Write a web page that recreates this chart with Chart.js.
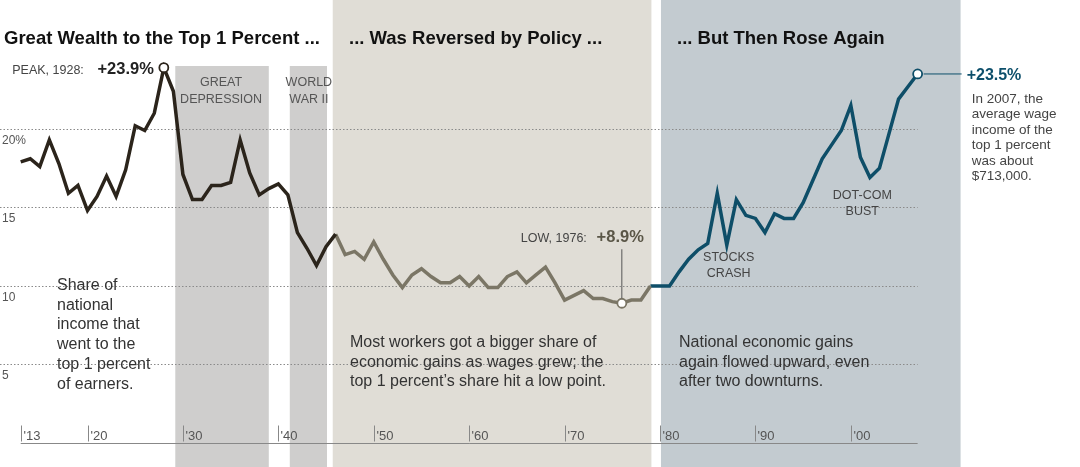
<!DOCTYPE html>
<html>
<head>
<meta charset="utf-8">
<script src="https://cdn.jsdelivr.net/npm/chart.js@4.4.1/dist/chart.umd.min.js"></script>
<style>
  html, body { margin: 0; padding: 0; background: #fff; }
  #wrap { width: 1080px; height: 467px; position: relative; }
</style>
</head>
<body>
<div id="wrap"><canvas id="chart"></canvas></div>
<script>
const years = [];
for (let y = 1913; y <= 2007; y++) years.push(y);

// share of national income going to top 1 percent (%)
const share = [
  17.9, 18.1, 17.6, 19.3, 17.8, 15.9, 16.4, 14.8, 15.7, 17.0,
  15.7, 17.4, 20.2, 19.9, 21.0, 23.9, 22.4, 17.1, 15.5, 15.5,
  16.4, 16.4, 16.6, 19.3, 17.2, 15.8, 16.2, 16.5, 15.8, 13.4,
  12.4, 11.3, 12.5, 13.3, 12.0, 12.2, 11.7, 12.8, 11.7, 10.7,
  9.9, 10.7, 11.1, 10.6, 10.2, 10.2, 10.6, 10.0, 10.6, 9.9,
  9.9, 10.6, 10.9, 10.2, 10.7, 11.2, 10.2, 9.1, 9.4, 9.7,
  9.2, 9.2, 9.0, 8.9, 9.1, 9.1, 10.0, 10.0, 10.0, 10.9,
  11.7, 12.3, 12.7, 15.9, 12.6, 15.5, 14.5, 14.3, 13.4, 14.6,
  14.3, 14.3, 15.3, 16.7, 18.1, 19.0, 19.9, 21.5, 18.2, 16.9,
  17.5, 19.7, 21.9, 22.7, 23.5
];

const yTicks = [5, 10, 15, 20];
const xTicks = [1913, 1920, 1930, 1940, 1950, 1960, 1970, 1980, 1990, 2000];
const xTickLabels = ["'13", "'20", "'30", "'40", "'50", "'60", "'70", "'80", "'90", "'00"];

// shaded periods [from, to, colour]
const bands = [
  [1929.2, 1939.0, '#cfcecd'],
  [1941.2, 1945.1, '#cfcecd'],
  [1945.7, 1979.1, '#e0ddd6'],
  [1980.1, 2011.5, '#c3cbd0']
];

const part = (from, to) => years.map((y, i) => (y >= from && y <= to) ? { x: y, y: share[i] } : null).filter(Boolean);
const marks = [1928, 1976, 2007];
const radius = pts => pts.map(p => marks.includes(p.x) ? 4.5 : 0);

const FONT = '"Liberation Sans", Arial, sans-serif';

const decor = {
  id: 'decor',
  beforeDatasetsDraw(chart) {
    const { ctx, scales: { x, y } } = chart;
    ctx.save();
    bands.forEach(([f, t, c]) => {
      ctx.fillStyle = c;
      const top = c === '#cfcecd' ? 66 : 0;
      ctx.fillRect(x.getPixelForValue(f), top, x.getPixelForValue(t) - x.getPixelForValue(f), 467 - top);
    });
    // dotted gridlines
    ctx.strokeStyle = '#8a8a8a';
    ctx.lineWidth = 1;
    ctx.setLineDash([1.5, 2]);
    yTicks.forEach(v => {
      const py = Math.round(y.getPixelForValue(v)) + 0.5;
      ctx.beginPath(); ctx.moveTo(0, py); ctx.lineTo(x.getPixelForValue(2007), py); ctx.stroke();
      ctx.fillStyle = '#555';
      ctx.font = '12px ' + FONT;
      ctx.fillText(v === 20 ? '20%' : String(v), 2, py + 14);
    });
    ctx.setLineDash([]);
    // x axis
    const by = Math.round(y.getPixelForValue(0)) + 0.5;
    ctx.strokeStyle = '#888';
    ctx.beginPath(); ctx.moveTo(x.getPixelForValue(1913), by); ctx.lineTo(x.getPixelForValue(2007), by); ctx.stroke();
    ctx.font = '13px ' + FONT;
    ctx.fillStyle = '#555';
    xTicks.forEach((t, i) => {
      const px = Math.round(x.getPixelForValue(t)) + 0.5;
      ctx.beginPath(); ctx.moveTo(px, by - 18); ctx.lineTo(px, by - 2); ctx.stroke();
      ctx.fillText(xTickLabels[i], px + 2, by - 4);
    });
    ctx.restore();
  },
  afterDatasetsDraw(chart) {
    const { ctx, scales: { x, y } } = chart;
    const P = (yr, v) => [x.getPixelForValue(yr), y.getPixelForValue(v)];
    ctx.save();
    ctx.textBaseline = 'alphabetic';
    ctx.fillStyle = '#111';
    ctx.font = 'bold 18.5px ' + FONT;
    ctx.fillText('Great Wealth to the Top 1 Percent ...', 4, 44);
    ctx.fillText('... Was Reversed by Policy ...', 349, 44);
    ctx.fillText('... But Then Rose Again', 677, 44);
    const txt = (s, px, py, size, col, align, bold) => {
      ctx.font = (bold ? 'bold ' : '') + size + 'px ' + FONT;
      ctx.fillStyle = col; ctx.textAlign = align || 'left';
      ctx.fillText(s, px, py);
    };
    let [px, py] = P(1928, 23.9);
    txt('PEAK, 1928:', px - 80, py + 6, 12.5, '#444', 'right');
    txt('+23.9%', px - 10, py + 6, 16.5, '#222', 'right', true);
    txt('GREAT', x.getPixelForValue(1934), 86, 12.5, '#555', 'center');
    txt('DEPRESSION', x.getPixelForValue(1934), 103, 12.5, '#555', 'center');
    txt('WORLD', x.getPixelForValue(1943.2), 86, 12.5, '#555', 'center');
    txt('WAR II', x.getPixelForValue(1943.2), 103, 12.5, '#555', 'center');
    [px, py] = P(1976, 8.9);
    ctx.strokeStyle = '#555'; ctx.lineWidth = 1;
    ctx.beginPath(); ctx.moveTo(px, py - 5); ctx.lineTo(px, py - 54); ctx.stroke();
    txt('LOW, 1976:', px - 35, py - 61, 12.5, '#444', 'right');
    txt('+8.9%', px + 22, py - 61, 16.5, '#5a5647', 'right', true);
    txt('STOCKS', x.getPixelForValue(1987.2), 261, 12.5, '#444', 'center');
    txt('CRASH', x.getPixelForValue(1987.2), 277, 12.5, '#444', 'center');
    txt('DOT-COM', x.getPixelForValue(2001.2), 199, 12.5, '#444', 'center');
    txt('BUST', x.getPixelForValue(2001.2), 215, 12.5, '#444', 'center');
    [px, py] = P(2007, 23.5);
    ctx.strokeStyle = '#0d4f6b';
    ctx.beginPath(); ctx.moveTo(px + 6, py); ctx.lineTo(px + 44, py); ctx.stroke();
    txt('+23.5%', px + 49, py + 6, 16, '#0d4f6b', 'left', true);
    ['In 2007, the', 'average wage', 'income of the', 'top 1 percent', 'was about', '$713,000.'].forEach((s, i) =>
      txt(s, px + 54, py + 29 + i * 15.5, 13.5, '#444'));
    ['Share of', 'national', 'income that', 'went to the', 'top 1 percent', 'of earners.'].forEach((s, i) =>
      txt(s, 57, 290 + i * 19.7, 16, '#333'));
    ['Most workers got a bigger share of', 'economic gains as wages grew; the', 'top 1 percent\u2019s share hit a low point.'].forEach((s, i) =>
      txt(s, 350, 347 + i * 19.5, 16, '#333'));
    ['National economic gains', 'again flowed upward, even', 'after two downturns.'].forEach((s, i) =>
      txt(s, 679, 347 + i * 19.5, 16, '#333'));
    ctx.restore();
  }
};

const lineSet = (data, color) => ({
  data, borderColor: color, borderWidth: 3.5, tension: 0,
  pointRadius: radius(data), pointBackgroundColor: '#fff', pointBorderColor: color, pointBorderWidth: 1.8
});

new Chart(document.getElementById('chart'), {
  type: 'line',
  data: {
    datasets: [
      lineSet(part(1913, 1946), '#2b241b'),
      lineSet(part(1946, 1979), '#7b7666'),
      lineSet(part(1979, 2007), '#0e4e68')
    ]
  },
  options: {
    responsive: true,
    maintainAspectRatio: false,
    animation: false,
    layout: { padding: { left: 0, right: 120, top: 19, bottom: 24 } },
    plugins: { legend: { display: false }, tooltip: { enabled: false } },
    scales: {
      x: { type: 'linear', min: 1911.49, max: 2011.44, display: false },
      y: { min: 0, max: 27, display: false }
    }
  },
  plugins: [decor]
});
</script>
</body>
</html>
